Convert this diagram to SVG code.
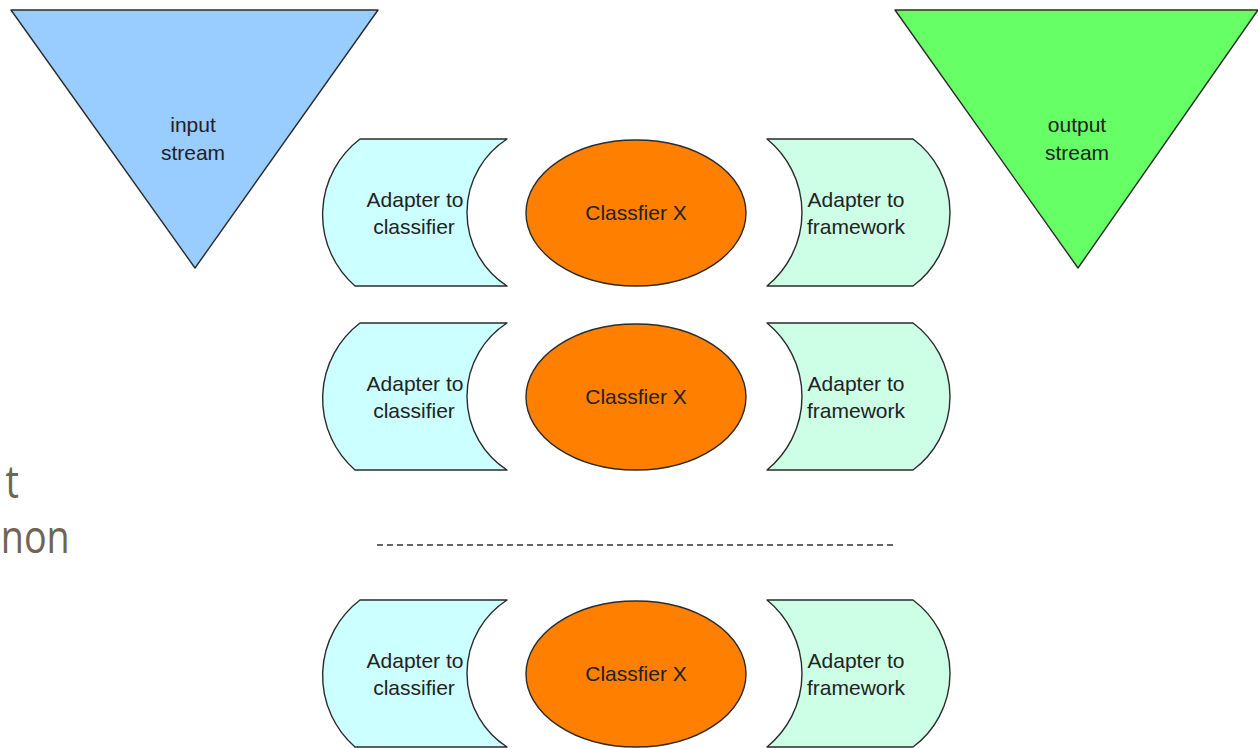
<svg xmlns="http://www.w3.org/2000/svg" width="1258" height="748" viewBox="0 0 1258 748">
<style>
.lbl{font-family:"Liberation Sans",Arial,sans-serif;font-size:21px;fill:#222;text-anchor:middle}
.edge{stroke:#2b2b2b;stroke-width:1.4;stroke-linejoin:round}
.ac{fill:#ccffff}
.af{fill:#ccffe6}
.cl{fill:#ff8000}
.side{font-family:"Open Sans","Noto Sans",sans-serif;font-size:46px;fill:#6f6550;text-anchor:end}
</style>
<defs>
<path id="adC" d="M360,139 L507,139 A87.5,87.5 0 0 0 507,286 L355,286 A95,95 0 0 1 360,139 Z"/>
<path id="adF" d="M767,139 L913,139 A91.5,91.5 0 0 1 913,286 L767,286 A94.7,94.7 0 0 0 767,139 Z"/>
</defs>
<rect width="1258" height="748" fill="#ffffff"/>

<g id="side-text">
<text class="side" transform="scale(0.82,1)" x="23" y="498">t</text>
<text class="side" transform="scale(0.82,1)" x="85" y="553">non</text>
</g>

<g id="input-stream">
<polygon class="edge" points="11,10 378,10 195,268" fill="#99ccff"/>
<text class="lbl" x="193" y="132">input</text>
<text class="lbl" x="193" y="160">stream</text>
</g>

<g id="output-stream">
<polygon class="edge" points="895,10 1258,10 1078,268" fill="#66ff66"/>
<text class="lbl" x="1077" y="132">output</text>
<text class="lbl" x="1077" y="160">stream</text>
</g>

<g id="adapter-classifier-1">
<use href="#adC" class="edge ac"/>
<text class="lbl" x="415" y="207">Adapter to</text>
<text class="lbl" x="414" y="234">classifier</text>
</g>
<g id="classifier-1">
<ellipse class="edge cl" cx="636" cy="213" rx="110" ry="73"/>
<text class="lbl" x="636" y="220">Classfier X</text>
</g>
<g id="adapter-framework-1">
<use href="#adF" class="edge af"/>
<text class="lbl" x="856" y="207">Adapter to</text>
<text class="lbl" x="856" y="234">framework</text>
</g>

<g id="adapter-classifier-2" transform="translate(0,184)">
<use href="#adC" class="edge ac"/>
<text class="lbl" x="415" y="207">Adapter to</text>
<text class="lbl" x="414" y="234">classifier</text>
</g>
<g id="classifier-2" transform="translate(0,184)">
<ellipse class="edge cl" cx="636" cy="213" rx="110" ry="73"/>
<text class="lbl" x="636" y="220">Classfier X</text>
</g>
<g id="adapter-framework-2" transform="translate(0,184)">
<use href="#adF" class="edge af"/>
<text class="lbl" x="856" y="207">Adapter to</text>
<text class="lbl" x="856" y="234">framework</text>
</g>

<g id="adapter-classifier-3" transform="translate(0,461)">
<use href="#adC" class="edge ac"/>
<text class="lbl" x="415" y="207">Adapter to</text>
<text class="lbl" x="414" y="234">classifier</text>
</g>
<g id="classifier-3" transform="translate(0,461)">
<ellipse class="edge cl" cx="636" cy="213" rx="110" ry="73"/>
<text class="lbl" x="636" y="220">Classfier X</text>
</g>
<g id="adapter-framework-3" transform="translate(0,461)">
<use href="#adF" class="edge af"/>
<text class="lbl" x="856" y="207">Adapter to</text>
<text class="lbl" x="856" y="234">framework</text>
</g>

<g id="connectors">
<line x1="377" y1="545" x2="893" y2="545" stroke="#333" stroke-width="1.5" stroke-dasharray="6 4"/>
</g>
</svg>
